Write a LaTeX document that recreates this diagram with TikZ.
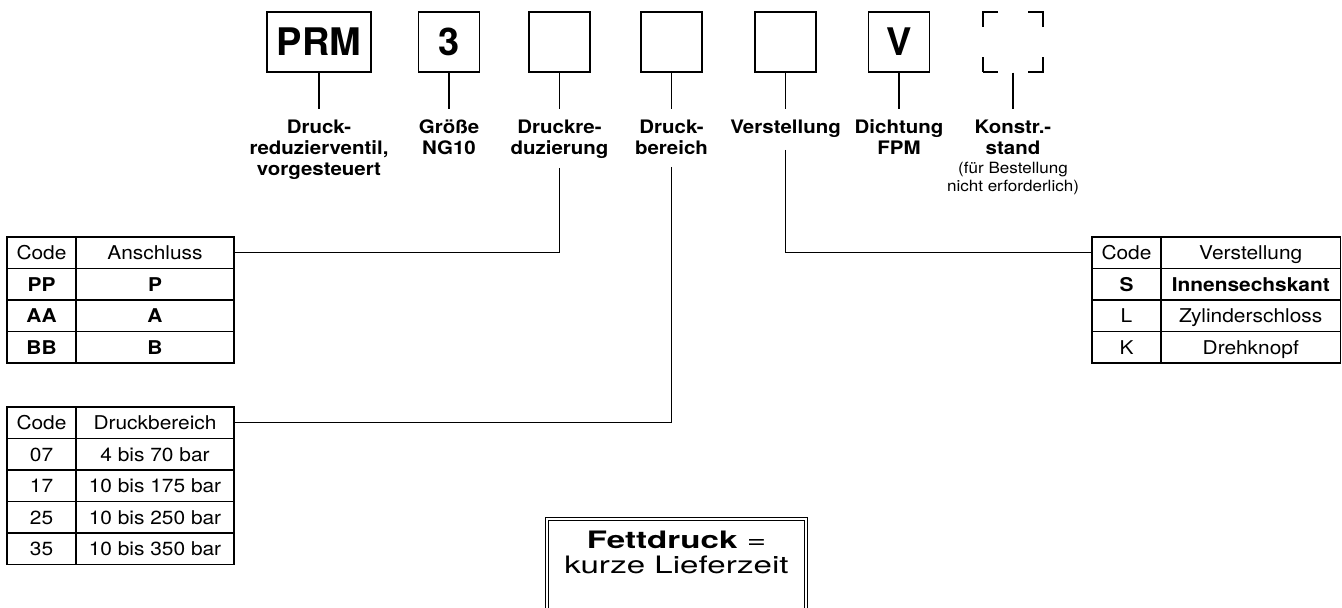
\documentclass[tikz,border=0pt]{standalone}
\usepackage{fontspec}
\setmainfont{TeX Gyre Heros}[FakeStretch=1.1]
\newfontfamily\codefont{TeX Gyre Heros}
\newfontfamily\legendfont{TeX Gyre Heros}[FakeStretch=1.38]
\usepackage{tikz}
\usetikzlibrary{positioning}

\begin{document}
\begin{tikzpicture}[x=1pt, y=-1pt, line width=1.2pt, inner sep=0pt, font=\fontsize{19}{22}\selectfont]

    \tikzstyle{digit}=[draw, minimum width=61pt, minimum height=60pt, font=\codefont\bfseries\fontsize{38}{38}\selectfont]
    \tikzstyle{caption}=[align=center, anchor=north, font=\bfseries\fontsize{18.6}{21}\selectfont]
    \tikzstyle{cell}=[draw, minimum height=31.5pt, text height=13.6pt, text depth=0pt]
    \tikzstyle{codecell}=[cell, minimum width=69pt]

    \useasboundingbox (0,0) rectangle (1342,608);

    % type code
    \node[digit, minimum width=104pt] (prm) at (319,42) {PRM};
    \node[digit] (ng)   at (449,42)   {3};
    \node[digit] (red)  at (559.5,42) {};
    \node[digit] (rng)  at (671.5,42) {};
    \node[digit] (adj)  at (785.5,42) {};
    \node[digit] (seal) at (899,42)   {V};
    \node[digit, minimum width=60pt, dash pattern=on 30pt off 30pt, dash phase=15pt] (rev) at (1013,42) {};

    % captions
    \node[caption] (lprm)  at (319,119)   {Druck-\\reduzierventil,\\vorgesteuert};
    \node[caption] (lng)   at (449,119)   {Größe\\NG10};
    \node[caption] (lred)  at (559.5,119) {Druckre-\\duzierung};
    \node[caption] (lrng)  at (671.5,119) {Druck-\\bereich};
    \node[caption] (ladj)  at (785.5,119) {Verstellung};
    \node[caption] (lseal) at (899,119)   {Dichtung\\FPM};
    \node[caption] (lrev)  at (1013,119)  {Konstr.-\\stand};
    \node[align=center, font=\fontsize{15.5}{18}\selectfont, below=7pt of lrev] (lrevnote) {(für Bestellung\\nicht erforderlich)};

    \foreach \b/\l in {prm/lprm, ng/lng, red/lred, rng/lrng, adj/ladj, seal/lseal, rev/lrev}
        \draw[shorten >=10pt] (\b) -- (\l);

    % Anschluss
    \foreach \c/\t [count=\i] in {Code/Anschluss, \textbf{PP}/\textbf{P}, \textbf{AA}/\textbf{A}, \textbf{BB}/\textbf{B}} {
        \node[codecell] (port-c\i) at (41.5,{221.25+31.5*\i}) {\c};
        \node[cell, minimum width=158pt] (port-t\i) at (155,{221.25+31.5*\i}) {\t};
    }

    % Druckbereich
    \foreach \c/\t [count=\i] in {Code/Druckbereich, 07/4 bis 70 bar, 17/10 bis 175 bar, 25/10 bis 250 bar, 35/10 bis 350 bar} {
        \node[codecell] (range-c\i) at (41.5,{391.25+31.5*\i}) {\c};
        \node[cell, minimum width=158pt] (range-t\i) at (155,{391.25+31.5*\i}) {\t};
    }

    % Verstellung
    \foreach \c/\t [count=\i] in {Code/Verstellung, \textbf{S}/\textbf{Innensechskant}, L/Zylinderschloss, K/Drehknopf} {
        \node[codecell] (mode-c\i) at (1126.5,{221.25+31.5*\i}) {\c};
        \node[cell, minimum width=179.5pt] (mode-t\i) at (1250.75,{221.25+31.5*\i}) {\t};
    }

    \draw[shorten <=9pt]  (lred) |- (port-t1);
    \draw[shorten <=12pt] (lrng) |- (range-t1);
    \draw[shorten <=12pt] (ladj) |- (mode-c1);

    % legend
    \begin{scope}
        \clip (0,0) rectangle (1342,608);
        \node[draw, double, double distance=2.3pt, line width=1pt, minimum width=258.6pt, minimum height=121pt] (legend) at (676.5,579.7) {};
    \end{scope}
    \node[align=center, anchor=north, font=\legendfont\fontsize{24}{25}\selectfont] (legendtext) at (676.5,530) {\textbf{Fettdruck} =\\kurze Lieferzeit};

\end{tikzpicture}
\end{document}
